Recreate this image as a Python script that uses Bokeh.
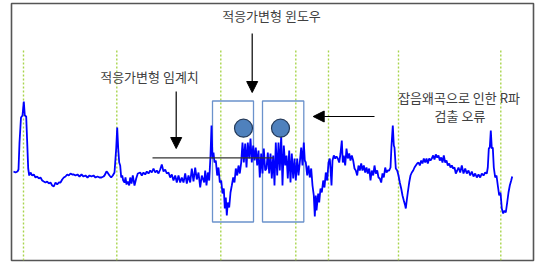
from bokeh.plotting import figure
from bokeh.models import Range1d, ColumnDataSource, Arrow, NormalHead
from bokeh.core.properties import value
from bokeh.embed import file_html
from bokeh.resources import INLINE

# ECG trace: time (samples) and amplitude (arbitrary units, baseline ~0)
ecg_t = [13, 15, 17, 18, 19, 20.5, 22, 23.3, 24.3, 25.7, 26.7, 27.7, 28.7, 30, 31.7, 33.3, 35, 36.7, 38.3, 40,
         41.7, 43.3, 45, 46.7, 48.3, 50, 51.7, 53.3, 55, 56.7, 58.3, 60, 61.7, 63.3, 65, 66.7, 68.3, 70, 71.7, 73.3,
         75, 77, 79, 81, 83, 85, 87, 89, 91, 93, 95, 97, 99, 101, 103, 104, 106, 107, 109, 110.7,
         112.3, 114, 115.7, 116.7, 117.7, 118.7, 119.7, 120.7, 121.7, 122.7, 124, 125, 126, 127.3, 128.7, 129.7, 131, 132.3, 134, 135.7,
         137.3, 139.7, 141.3, 143, 144.7, 146.3, 148, 149.7, 151.3, 153, 154.7, 156.3, 158, 159.7, 161.3, 163, 164.7, 166.3, 168, 169.7,
         171.3, 173, 174.7, 176.3, 178, 179.7, 181.3, 183, 184.7, 186.3, 188, 189.7, 191.3, 193, 194.7, 196.3, 198, 199.7, 201.3, 203.7,
         204.7, 206, 207.3, 208.7, 210, 211, 212, 213, 214, 215.3, 216.7, 218, 219.3, 220.7, 222, 223.3, 224.3, 225.3, 226.3, 227.3,
         228.7, 230, 231.3, 232.7, 234, 235.3, 236.7, 238, 239.3, 240.7, 242, 243.3, 244.7, 246, 247.3, 248.7, 250, 251.3, 252.7, 254,
         255.3, 256.7, 258, 259.3, 260.7, 262, 263.3, 264.7, 266, 267.3, 268.7, 270, 271.3, 272.7, 274, 275.3, 276.7, 278, 279.3, 280.7,
         282, 283.3, 284.7, 286, 287.3, 288.7, 290, 291.3, 292.7, 294, 295.3, 296.7, 298, 299.3, 300.7, 302, 303.3, 304.3, 305.3, 306.7,
         308, 309.3, 310.7, 312, 313.3, 314.3, 315.3, 316, 317.7, 318.7, 320, 321.3, 322.7, 324, 325.3, 326.7, 328, 329.3, 330, 331,
         332, 333.3, 334.7, 336, 337.3, 338.7, 340, 341.3, 342.3, 343.3, 344.7, 346, 347.3, 348.7, 350, 351.3, 352.7, 354, 355.3, 356.7,
         358, 359.3, 360.7, 362, 363.3, 364.7, 366, 367.3, 368.7, 370, 371.3, 372.7, 374, 375.3, 376.7, 378, 379.3, 380.7, 382, 383.3,
         384.7, 386, 387.3, 388.7, 390, 391, 392.3, 393.3, 394, 395.3, 396.7, 398, 399.3, 400.7, 402, 403.3, 404.7, 405.3, 406, 407.3,
         408.7, 410, 411.3, 412.7, 414, 415.3, 416.7, 418, 419.3, 420.7, 422, 423.3, 424.7, 426, 427.3, 428.7, 430, 431.3, 432.7, 434,
         435.3, 436.7, 438, 439.3, 440.7, 442, 443.3, 444.7, 446, 447.3, 448.7, 450, 451.3, 452.7, 454, 455.3, 456.7, 458, 459.7, 461.3,
         463, 464.7, 466.3, 468, 469.7, 471.3, 473, 474.7, 476.3, 478, 479.7, 481.3, 483, 484.7, 486.3, 487.3, 488.3, 489.3, 490.3, 491.3,
         492.3, 493.3, 494.7, 496, 497.3, 498.7, 500, 501.3, 502.7, 504, 505.3, 506.7, 508, 509.3, 510.7, 511.7]
ecg_amp = [-1, -2, -1, 1, 28, 53, 55, 69, 55, 54, 28, 2, -5, -2, -5, -4, -7, -6, -8, -7,
           -10, -11, -12, -11, -13, -12, -15, -16, -12, -14, -12, -12, -9, -7, -6, -4, -5, -3, -4, -4,
           -5, -4, -6, -4, -6, -5, -7, -5, -6, -5, -7, -6, -7, -7, -6, -5, -1, -2, -5, -7,
           -5, -2, 22, 43, 22, 8, 5, -7, -5, -10, -12, -7, -14, -11, -15, -7, -13, -5, -15, -8,
           -3, -2, -5, -2, -4, -1, -3, 0, -2, 2, -2, 0, -3, 1, 6, -1, 1, -3, -2, -7,
           -4, -10, -5, -12, -5, -12, -7, -12, -3, -13, -5, -12, 2, -11, 3, -9, -2, -17, -5, -12,
           0, -15, -2, -10, 15, 45, 12, 18, 8, 10, -5, 3, -12, -10, -23, -18, -38, -27, -45, -32,
           -37, -22, -15, -7, -12, 2, -5, 5, -3, 8, 28, 8, 27, 3, 28, 12, 32, 8, 25, 10,
           23, 5, 20, -7, 17, -3, 22, 0, 2, 18, -3, 17, -8, 15, -15, 28, -5, 28, 0, 35,
           -15, 25, 5, 15, -8, 20, -12, 17, -8, 12, -10, 12, -5, 8, 23, 5, 28, 10, 8, -5,
           5, -7, 2, -15, -25, -46, -25, -40, -23, -32, -18, -22, -10, -17, -2, -10, 8, 12, 2, -15,
           10, 15, 12, 14, 12, 8, 17, 30, 8, 15, 5, 22, 12, 17, 10, 15, 10, 2, 0, -5,
           5, 0, 7, 0, 5, -2, 3, -3, 2, -10, 0, -5, 5, -3, 0, -7, -8, -12, -3, -7,
           3, -2, 0, 0, 3, 25, 45, 25, 23, 2, 0, -5, -12, -18, -25, -30, -35, -38, -32, -22,
           -12, -5, -2, 0, 3, 5, 7, 8, 5, 10, 7, 12, 8, 12, 7, 12, 10, 12, 15, 11,
           16, 13, 15, 10, 13, 8, 15, 8, 10, 5, 7, 3, 5, 2, 3, -3, 0, 3, -2, 5,
           -3, 2, -3, 0, -5, -1, -6, -3, -7, -4, -7, -3, -5, -2, -3, 3, 22, 23, 40, 22,
           23, 3, -7, -5, -15, -25, -22, -38, -43, -40, -42, -32, -22, -15, -10, -6]

# Detected beat markers (green dotted verticals)
beat_t = [23, 116.3, 220.3, 295.3, 328, 398, 500.3]
beat_top = [120] * 7
beat_bottom = [-90] * 7

# Adaptive threshold
thr_t0 = [152]
thr_t1 = [273]
thr_amp = [12.7]

# Adaptive windows
win_left = [212, 262]
win_right = [253, 303.3]
win_top = [69.5, 69.5]
win_bottom = [-51.5, -51.5]

# Detected (erroneous) R peaks
det_t = [243, 280]
det_amp = [42.3, 42.3]

# Annotations
label_text = ["적응가변형 윈도우", "적응가변형 임계치", "잡음왜곡으로 인한 R파", "검출 오류"]
label_t = [271, 149, 458.5, 459.5]
label_amp = [155, 94, 73, 55]

arrow_x0 = [251.7, 175.7, 374]
arrow_y0 = [137, 79, 54]
arrow_x1 = [251.7, 175.7, 312.7]
arrow_y1 = [78, 22, 54]

p = figure(width=535, height=262, output_backend="svg", toolbar_location=None,
           x_range=Range1d(11, 533), y_range=Range1d(-90, 167),
           x_axis_location=None, y_axis_location=None,
           min_border_left=11, min_border_right=2, min_border_top=3, min_border_bottom=2)
p.grid.visible = False
p.outline_line_color = "#555555"
p.outline_line_width = 1.6
p.background_fill_color = "white"
p.border_fill_color = "white"

p.segment(x0=beat_t, y0=beat_top, x1=beat_t, y1=beat_bottom,
          line_color="#a8d44c", line_width=1.4, line_dash="2 2")

p.quad(left=win_left, right=win_right, top=win_top, bottom=win_bottom,
       fill_alpha=0, line_color="#6b92cc", line_width=1.3)

p.line(ecg_t, ecg_amp, line_color="#0000ff", line_width=1.8)

p.segment(x0=thr_t0, y0=thr_amp, x1=thr_t1, y1=thr_amp, line_color="#333333", line_width=1.3)

p.scatter(det_t, det_amp, size=18, fill_color="#4f81bd", line_color="#243a5a", line_width=1.2)

arrows = ColumnDataSource(dict(x0=arrow_x0, y0=arrow_y0, x1=arrow_x1, y1=arrow_y1))
p.add_layout(Arrow(source=arrows, x_start="x0", y_start="y0", x_end="x1", y_end="y1",
                   line_color="black", line_width=1.2,
                   end=NormalHead(size=11, fill_color="black", line_color="black")))

labels = ColumnDataSource(dict(x=label_t, y=label_amp, text=label_text))
p.text(x="x", y="y", text="text", source=labels, text_align="center", text_baseline="middle",
       text_font=value("Noto Sans CJK KR"), text_font_size="13px", text_color="#404040")

open("out.html", "w").write(file_html(p, INLINE))
